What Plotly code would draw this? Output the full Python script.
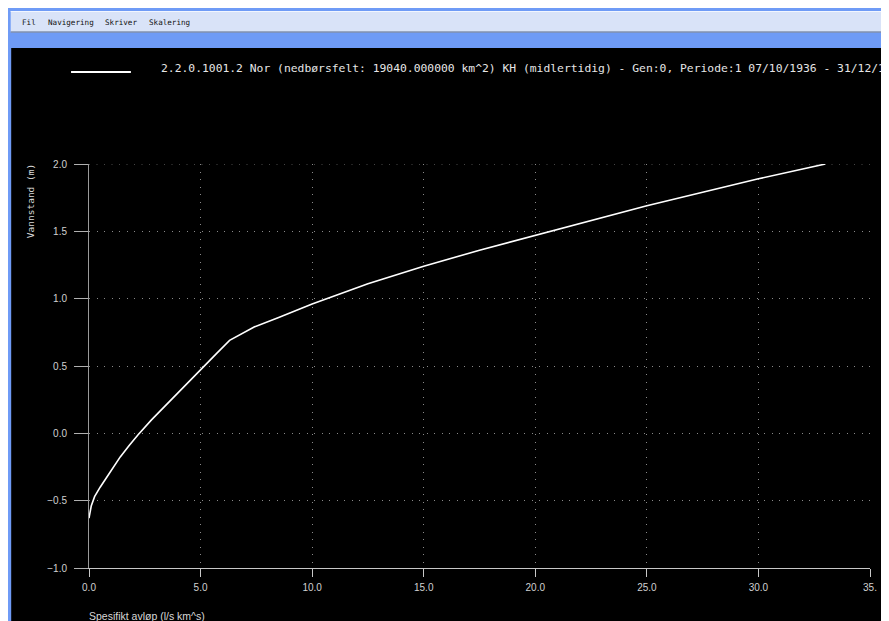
import plotly.graph_objects as go

# ---- data ----
discharge = [0.0, 0.1, 0.25, 0.5, 0.9, 1.4, 1.8, 2.2, 2.8, 3.5, 4.2, 5.0, 5.7, 6.3,
             7.4, 8.5, 10.0, 12.5, 15.0, 17.5, 20.0, 22.5, 25.0, 27.5, 30.0, 33.0]
stage = [-0.63, -0.54, -0.47, -0.40, -0.30, -0.175, -0.09, -0.01, 0.10, 0.22, 0.34, 0.475, 0.59, 0.69,
         0.79, 0.86, 0.96, 1.11, 1.24, 1.36, 1.47, 1.58, 1.69, 1.79, 1.89, 2.00]
x_tick_vals = [0, 5, 10, 15, 20, 25, 30, 35]
x_tick_text = ["0.0", "5.0", "10.0", "15.0", "20.0", "25.0", "30.0", "35."]
y_tick_vals = [-1.0, -0.5, 0.0, 0.5, 1.0, 1.5, 2.0]
y_tick_text = ["\u22121.0", "\u22120.5", "0.0", "0.5", "1.0", "1.5", "2.0"]
series_name = ("2.2.0.1001.2 Nor (nedbørsfelt: 19040.000000 km^2) KH (midlertidig) "
               "- Gen:0, Periode:1 07/10/1936 - 31/12/19")
menu_items = ["Fil", "Navigering", "Skriver", "Skalering"]
menu_x = [20, 46, 103, 147]
x_title = "Spesifikt avløp (l/s km^s)"
y_title = "Vannstand (m)"

# ---- geometry ----
W, H = 881, 630
ML, MR, MT, MB = 81, 17, 156, 70
PW, PH = W - ML - MR, H - MT - MB
OFF = 8  # body margin of the page


def fx(x):
    return (x - OFF - ML) / PW


def fy(y):
    return 1 - (y - OFF - MT) / PH


BLUE = "#6f9bf6"
GRID = "#8a8a8a"
DOTS = "1px,6.5px"

fig = go.Figure()
fig.add_trace(go.Scatter(x=discharge, y=stage, mode="lines",
                         line=dict(color="white", width=1.6),
                         name=series_name, showlegend=False, hoverinfo="skip"))

shapes = [
    # black drawing area
    dict(type="rect", xref="paper", yref="paper", x0=fx(11), x1=fx(885.5), y0=fy(48), y1=fy(700),
         fillcolor="black", line=dict(width=0), layer="below"),
    # menu bar
    dict(type="rect", xref="paper", yref="paper", x0=fx(10.5), x1=fx(885), y0=fy(11), y1=fy(32.5),
         fillcolor="#d9e3f8", line=dict(width=0), layer="below"),
    dict(type="line", xref="paper", yref="paper", x0=fx(10.5), x1=fx(885), y0=fy(32), y1=fy(32),
         line=dict(color="#56688a", width=1), layer="below"),
    dict(type="line", xref="paper", yref="paper", x0=fx(885), x1=fx(885), y0=fy(11), y1=fy(32.5),
         line=dict(color="#56688a", width=1), layer="below"),
    dict(type="line", xref="paper", yref="paper", x0=fx(10.5), x1=fx(885), y0=fy(11.5), y1=fy(11.5),
         line=dict(color="#f2f6ff", width=1), layer="below"),
    # top grid line at the last y tick (edge of the plot)
    dict(type="line", xref="x", yref="y", x0=x_tick_vals[0], x1=x_tick_vals[-1],
         y0=y_tick_vals[-1], y1=y_tick_vals[-1],
         line=dict(color=GRID, width=1, dash=DOTS), layer="below"),
    # legend sample line
    dict(type="line", xref="paper", yref="paper", x0=fx(71), x1=fx(131), y0=fy(72), y1=fy(72),
         line=dict(color="white", width=2), layer="above"),
]

annotations = []
for txt, mx in zip(menu_items, menu_x):
    annotations.append(dict(text=txt, xref="paper", yref="paper", x=fx(mx), y=fy(22.5),
                            xanchor="left", yanchor="middle", showarrow=False,
                            font=dict(family="DejaVu Sans Mono", size=7.6, color="#111111")))
annotations.append(dict(text=series_name, xref="paper", yref="paper", x=fx(159), y=fy(68),
                        xanchor="left", yanchor="middle", showarrow=False,
                        font=dict(family="DejaVu Sans Mono", size=11.35, color="#e6e6e6")))
annotations.append(dict(text=x_title, xref="paper", yref="paper", x=fx(87), y=fy(616),
                        xanchor="left", yanchor="middle", showarrow=False,
                        font=dict(family="Liberation Sans", size=10.5, color="#d8d8d8")))
annotations.append(dict(text=y_title, xref="paper", yref="paper", x=fx(30), y=fy(162),
                        xanchor="center", yanchor="top", showarrow=False, textangle=-90,
                        font=dict(family="DejaVu Sans Mono", size=9.5, color="#d8d8d8")))

fig.update_layout(
    width=W, height=H,
    margin=dict(l=ML, r=MR, t=MT, b=MB, pad=0),
    paper_bgcolor=BLUE, plot_bgcolor="black",
    shapes=shapes, annotations=annotations,
    showlegend=False,
)
fig.update_xaxes(range=[0, 35], tickvals=x_tick_vals, ticktext=x_tick_text,
                 showline=True, linecolor="#c8c8c8", linewidth=1,
                 ticks="outside", ticklen=8, tickcolor="#c8c8c8", tickwidth=1,
                 showgrid=True, gridcolor=GRID, gridwidth=1, griddash=DOTS,
                 zeroline=False, ticklabelstandoff=2,
                 tickfont=dict(family="Liberation Sans", size=10, color="#d0d0d0"))
fig.update_yaxes(range=[-1, 2], tickvals=y_tick_vals, ticktext=y_tick_text,
                 showline=True, linecolor="#9a9a9a", linewidth=1,
                 ticks="outside", ticklen=14, tickcolor="#b0b0b0", tickwidth=1,
                 showgrid=True, gridcolor=GRID, gridwidth=1, griddash=DOTS,
                 zeroline=False, ticklabelstandoff=5,
                 tickfont=dict(family="Liberation Sans", size=10, color="#d0d0d0"))

fig.write_html("out.html", config={"displayModeBar": False})
